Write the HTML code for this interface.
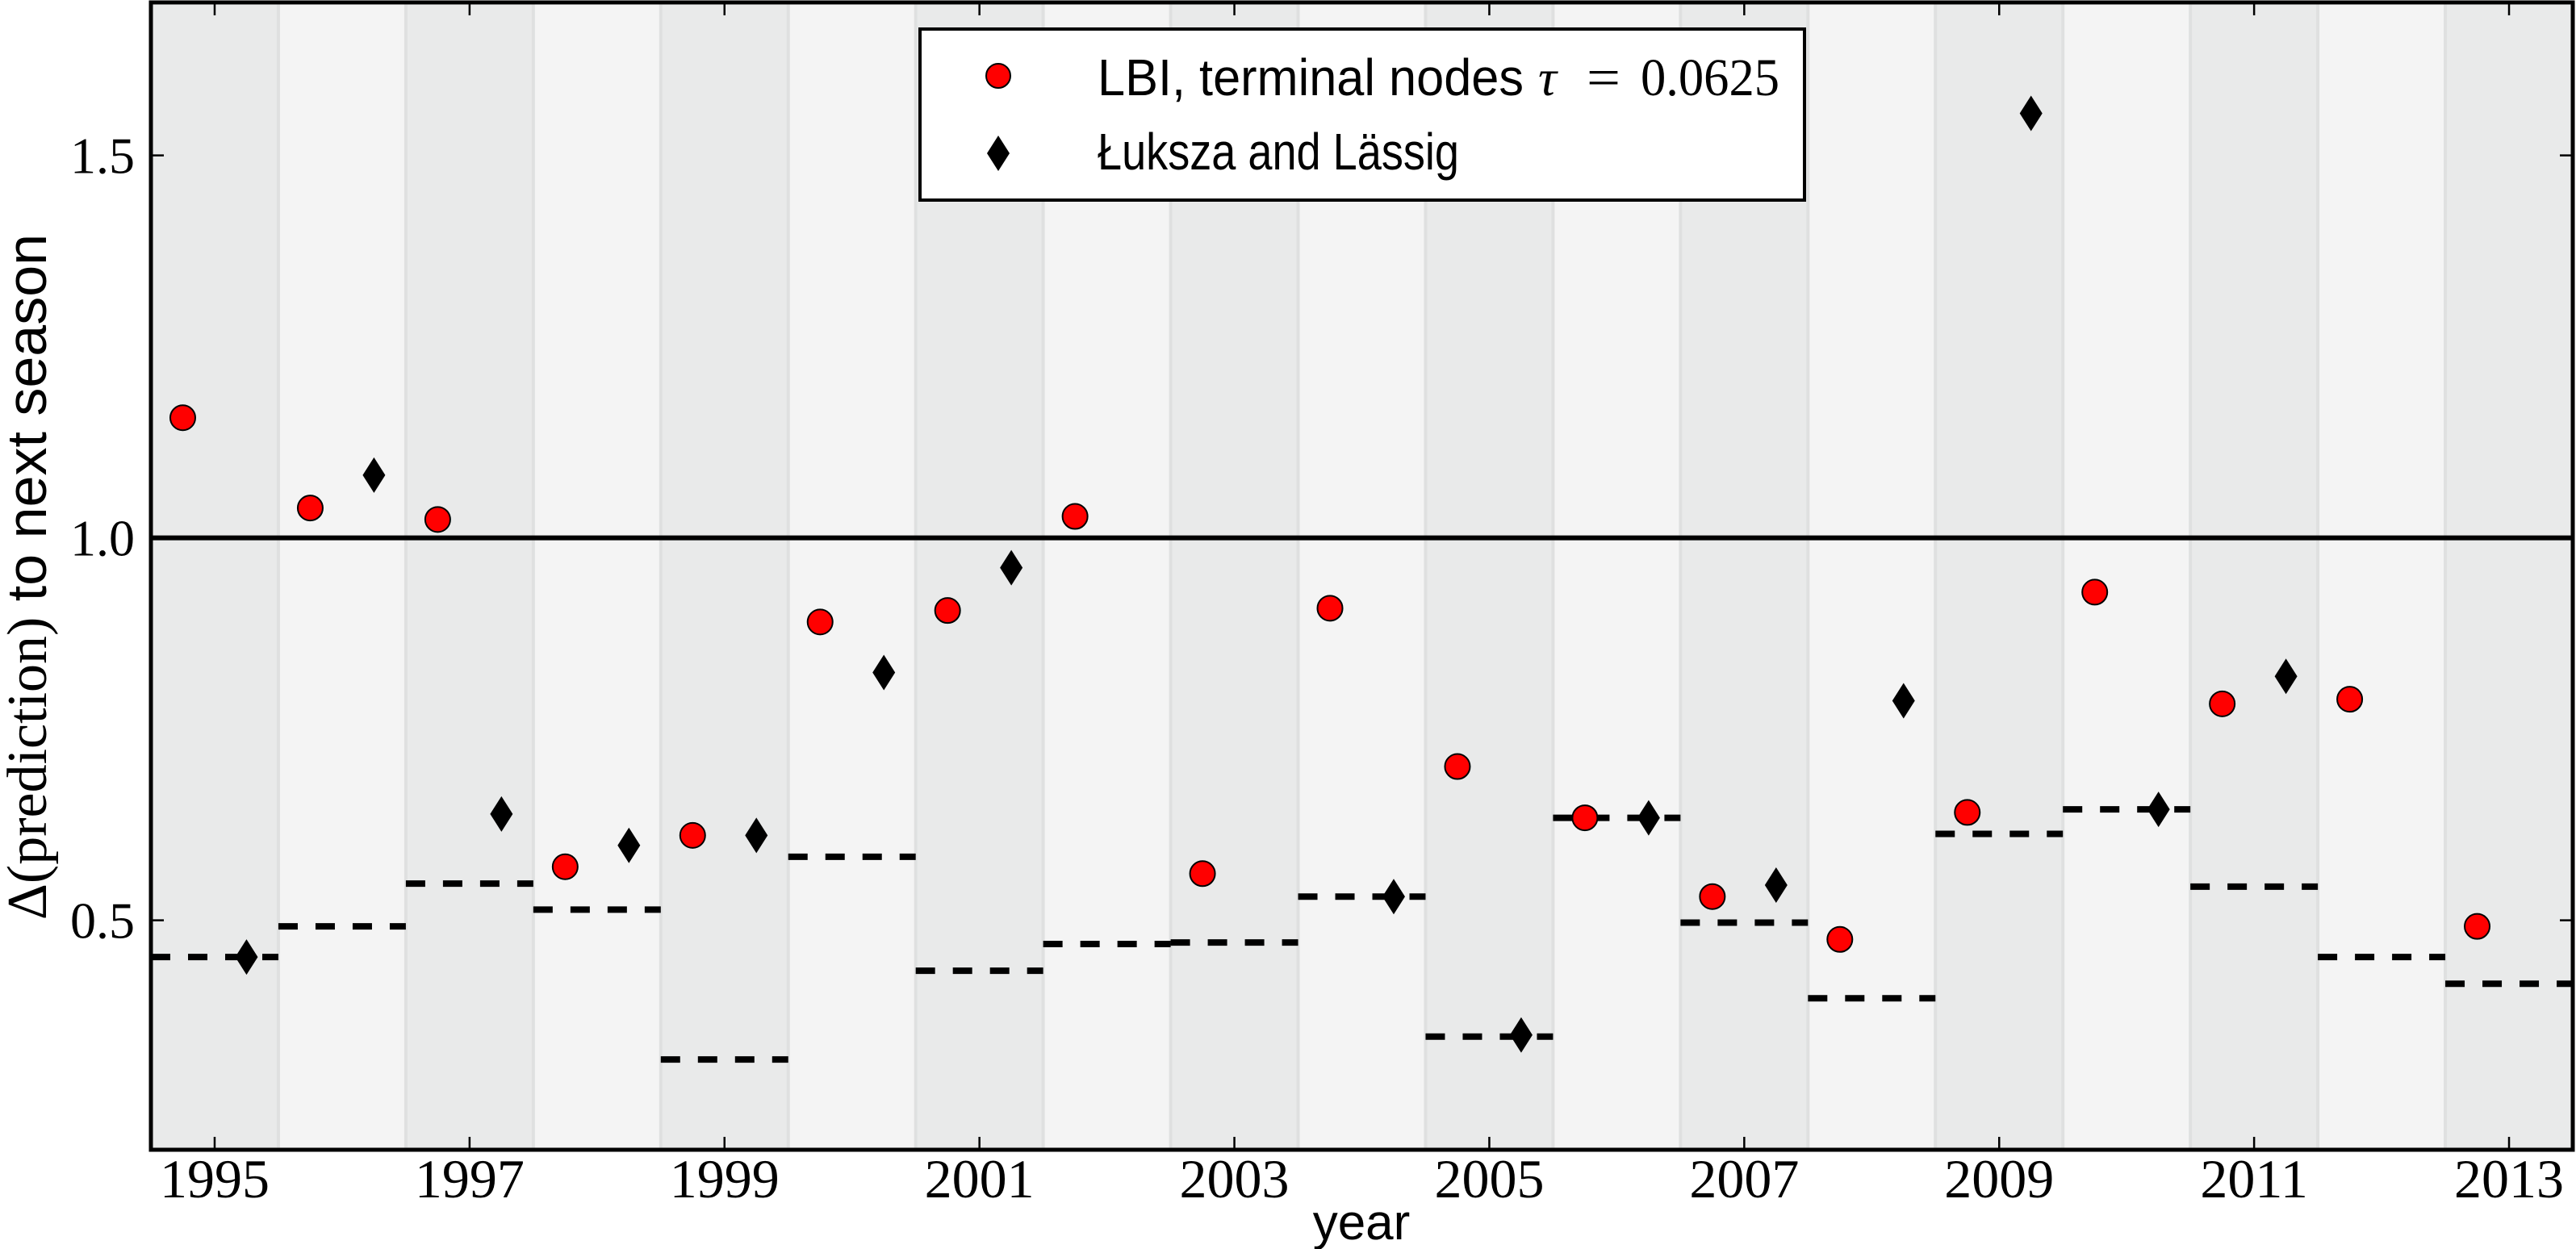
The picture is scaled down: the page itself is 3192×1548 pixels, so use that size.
<!DOCTYPE html>
<html><head><meta charset="utf-8"><style>
html,body{margin:0;padding:0;background:#fff;}
svg{display:block;}
</style></head><body>
<svg id="chart" width="3192" height="1548" viewBox="0 0 3192 1548" xmlns="http://www.w3.org/2000/svg">
<g id="bands"></g>
<g id="dashes"></g>
<line id="refline" stroke="#000" stroke-width="6"/>
<g id="lbi"></g>
<g id="ll"></g>
<g id="axes"></g>
<g>
  <rect x="1140" y="36" width="1096" height="212" fill="#fff" stroke="#000" stroke-width="4"/>
  <circle cx="1237" cy="94" r="15" fill="#ff0000" stroke="#000" stroke-width="2"/>
  <text x="1360" y="118" font-family="Liberation Sans, sans-serif" font-size="64" textLength="528" lengthAdjust="spacingAndGlyphs">LBI, terminal nodes</text>
  <text x="1906" y="118" font-family="Liberation Serif, serif" font-size="64" font-style="italic">τ</text>
  <text x="1966" y="118" font-family="Liberation Serif, serif" font-size="66" textLength="42" lengthAdjust="spacingAndGlyphs">=</text>
  <text x="2033" y="118" font-family="Liberation Serif, serif" font-size="66" textLength="172" lengthAdjust="spacingAndGlyphs">0.0625</text>
  <path d="M1237,168 L1251,190 L1237,212 L1223,190 Z" fill="#000"/>
  <text x="1360" y="210" font-family="Liberation Sans, sans-serif" font-size="64" textLength="448" lengthAdjust="spacingAndGlyphs">Łuksza and Lässig</text>
</g>
<text transform="translate(57,715) rotate(-90)" text-anchor="middle" font-size="70"><tspan font-family="Liberation Serif, serif">Δ(prediction)</tspan><tspan font-family="Liberation Sans, sans-serif"> to next season</tspan></text>
<text x="1687" y="1536" text-anchor="middle" font-family="Liberation Sans, sans-serif" font-size="62">year</text>
</svg>
<script>
const years = [1995,1996,1997,1998,1999,2000,2001,2002,2003,2004,2005,2006,2007,2008,2009,2010,2011,2012,2013];
const lbiValues = [1.157,1.039,1.024,0.570,0.611,0.890,0.905,1.028,0.561,0.908,0.701,0.634,0.531,0.475,0.641,0.929,0.783,0.789,0.492];
const llYears = [1995,1996,1997,1998,1999,2000,2001,2004,2005,2006,2007,2008,2009,2010,2011];
const llValues = [0.452,1.082,0.639,0.598,0.611,0.824,0.961,0.531,0.350,0.634,0.546,0.787,1.555,0.645,0.819];
const baselineValues = [0.452,0.492,0.548,0.514,0.318,0.583,0.434,0.469,0.471,0.531,0.348,0.634,0.497,0.398,0.613,0.645,0.544,0.452,0.417];
const xTicks = [1995,1997,1999,2001,2003,2005,2007,2009,2011,2013];
const yTicks = [0.5,1.0,1.5];
const refValue = 1.0;

const NS='http://www.w3.org/2000/svg';
const L=187,R=3188,T=3,B=1425;
const X0=1994.5,X1=2013.5,Y0=0.2,Y1=1.7;
function sx(v){return L+(v-X0)/(X1-X0)*(R-L);}
function sy(v){return B-(v-Y0)/(Y1-Y0)*(B-T);}
function mk(tag,attrs,parent){const e=document.createElementNS(NS,tag);for(const k in attrs)e.setAttribute(k,attrs[k]);parent.appendChild(e);return e;}

const bands=document.getElementById('bands');
years.forEach((y,i)=>{
  const r=mk('rect',{x:sx(y-0.5),y:T,width:sx(y+0.5)-sx(y-0.5),height:B-T,fill:(y%2===1)?'#e9eaea':'#f4f4f4'},bands);
  
  
});
years.slice(1).forEach(y=>{
  const l=mk('line',{x1:sx(y-0.5),x2:sx(y-0.5),y1:T,y2:B,stroke:'#dfe0e0','stroke-width':4},bands);
  
  
});

const dg=document.getElementById('dashes');
years.forEach((y,i)=>{
  const l=mk('line',{x1:sx(y-0.5),x2:sx(y+0.5),y1:sy(baselineValues[i]),y2:sy(baselineValues[i]),stroke:'#000','stroke-width':8,'stroke-dasharray':'24 22'},dg);
  
  
});

const rl=document.getElementById('refline');
rl.setAttribute('x1',L);rl.setAttribute('x2',R);rl.setAttribute('y1',sy(refValue));rl.setAttribute('y2',sy(refValue));

const lg=document.getElementById('lbi');
years.forEach((y,i)=>{
  const c=mk('circle',{cx:sx(y-0.25),cy:sy(lbiValues[i]),r:15.5,fill:'#ff0000',stroke:'#000','stroke-width':2},lg);
  
  
});
const dgm=document.getElementById('ll');
llYears.forEach((y,i)=>{
  const cx=sx(y+0.25),cy=sy(llValues[i]);
  const p=mk('path',{d:`M${cx},${cy-22} L${cx+14},${cy} L${cx},${cy+22} L${cx-14},${cy} Z`,fill:'#000'},dgm);
  
  
});

const ax=document.getElementById('axes');
const fr=mk('rect',{x:L,y:T,width:R-L,height:B-T,fill:'none',stroke:'#000','stroke-width':5},ax);


xTicks.forEach(t=>{
  const x=sx(t);
  mk('line',{x1:x,x2:x,y1:B,y2:B-16,stroke:'#000','stroke-width':2.5},ax);
  mk('line',{x1:x,x2:x,y1:T,y2:T+16,stroke:'#000','stroke-width':2.5},ax);
  const tx=mk('text',{x:x,y:1484,'text-anchor':'middle','font-family':'Liberation Serif, serif','font-size':68},ax);
  
  
  tx.textContent=t;
});
yTicks.forEach(t=>{
  const y=sy(t);
  mk('line',{x1:L,x2:L+16,y1:y,y2:y,stroke:'#000','stroke-width':2.5},ax);
  mk('line',{x1:R,x2:R-16,y1:y,y2:y,stroke:'#000','stroke-width':2.5},ax);
  const tx=mk('text',{x:L-20,y:y+22,'text-anchor':'end','font-family':'Liberation Serif, serif','font-size':64},ax);
  
  
  tx.textContent=t.toFixed(1);
});
</script>
</body></html>
